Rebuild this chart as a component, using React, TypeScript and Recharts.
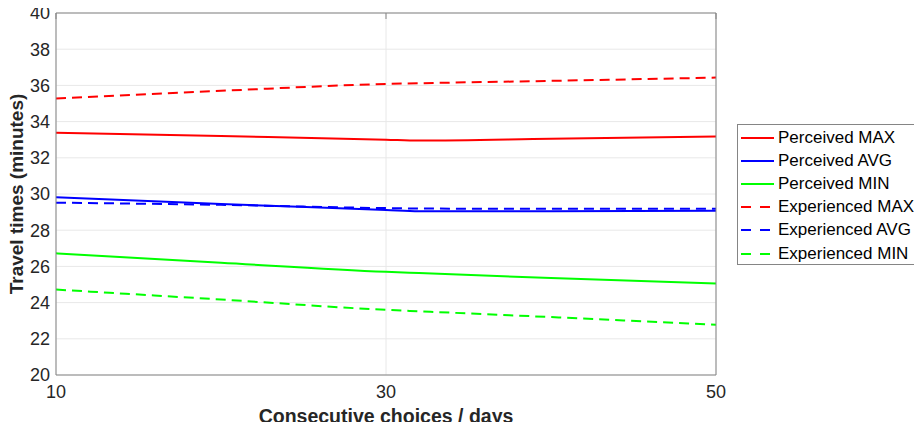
import { CartesianGrid, Label, Line, LineChart, XAxis, YAxis } from "recharts";

const days = [10, 20, 30, 32, 40, 50];
const perceivedMax = [33.39, 33.2, 33.0, 32.95, 33.05, 33.18];
const perceivedAvg = [29.82, 29.45, 29.12, 29.05, 29.05, 29.07];
const perceivedMin = [26.72, 26.2, 25.7, 25.63, 25.36, 25.06];
const experiencedMax = [35.28, 35.7, 36.08, 36.12, 36.25, 36.43];
const experiencedAvg = [29.52, 29.4, 29.22, 29.2, 29.18, 29.18];
const experiencedMin = [24.72, 24.17, 23.6, 23.52, 23.2, 22.78];

const xTicks = [10, 30, 50];
const yTicks = [20, 22, 24, 26, 28, 30, 32, 34, 36, 38, 40];

const SERIES = [
  { key: "pMax", name: "Perceived MAX", values: perceivedMax, color: "#ff0000", dash: undefined },
  { key: "pAvg", name: "Perceived AVG", values: perceivedAvg, color: "#0000ff", dash: undefined },
  { key: "pMin", name: "Perceived MIN", values: perceivedMin, color: "#00ff00", dash: undefined },
  { key: "eMax", name: "Experienced MAX", values: experiencedMax, color: "#ff0000", dash: "10 6" },
  { key: "eAvg", name: "Experienced AVG", values: experiencedAvg, color: "#0000ff", dash: "10 6" },
  { key: "eMin", name: "Experienced MIN", values: experiencedMin, color: "#00ff00", dash: "10 6" },
];

const data = days.map((d, i) => {
  const row: Record<string, number> = { day: d };
  SERIES.forEach((s) => (row[s.key] = s.values[i]));
  return row;
});

const FONT = "Arial, 'Liberation Sans', Helvetica, sans-serif";
const FRAME = "#858585";

function LegendBox() {
  return (
    <div
      style={{
        position: "absolute",
        left: 737,
        top: 124,
        border: `1px solid ${FRAME}`,
        background: "#fff",
        width: 181,
        height: 138,
        boxSizing: "content-box",
        fontFamily: FONT,
        fontSize: 17,
        color: "#000",
        paddingTop: 1,
      }}
    >
      {SERIES.map((s) => (
        <div key={s.key} style={{ display: "flex", alignItems: "center", height: 23.2 }}>
          <svg width={40} height={10}>
            <line x1={3} y1={5} x2={36} y2={5} stroke={s.color} strokeWidth={2} strokeDasharray={s.dash ? "10 9" : undefined} />
          </svg>
          <span style={{ whiteSpace: "nowrap" }}>{s.name}</span>
        </div>
      ))}
    </div>
  );
}

export default function App() {
  return (
    <div style={{ position: "relative", width: 922, height: 430, margin: -8 }}>
      <LineChart width={922} height={430} data={data} margin={{ top: 13, right: 206, bottom: 8, left: 16 }} style={{ fontFamily: FONT }}>
        <CartesianGrid stroke="#e8e8e8" strokeWidth={1} />
        <XAxis
          dataKey="day"
          type="number"
          domain={[10, 50]}
          ticks={xTicks}
          height={47}
          stroke={FRAME}
          tickLine={false}
          tickSize={0}
          tickMargin={10}
          tick={{ fill: "#262626", fontSize: 18 }}
          interval={0}
        >
          <Label value="Consecutive choices / days" position="insideBottom" offset={-1} style={{ fill: "#262626", fontSize: 19.5, fontWeight: "bold" }} />
        </XAxis>
        <XAxis xAxisId="top" dataKey="day" type="number" domain={[10, 50]} ticks={xTicks} orientation="top" height={1} stroke={FRAME} mirror tickSize={6} tickFormatter={() => ""} />
        <YAxis
          type="number"
          domain={[20, 40]}
          ticks={yTicks}
          width={40}
          stroke={FRAME}
          tickLine={false}
          tickSize={0}
          tickMargin={6}
          tick={{ fill: "#262626", fontSize: 18 }}
          interval={0}
        >
          <Label value="Travel times (minutes)" angle={-90} position="insideLeft" offset={0} style={{ fill: "#262626", fontSize: 19, fontWeight: "bold", textAnchor: "middle" }} />
        </YAxis>
        <YAxis yAxisId="right" orientation="right" type="number" domain={[20, 40]} ticks={yTicks} width={1} stroke={FRAME} mirror tickSize={6} tickFormatter={() => ""} />
        {SERIES.map((s) => (
          <Line
            key={s.key}
            dataKey={s.key}
            name={s.name}
            type="monotone"
            stroke={s.color}
            strokeWidth={2}
            strokeDasharray={s.dash}
            dot={false}
            activeDot={false}
            isAnimationActive={false}
          />
        ))}
      </LineChart>
      <LegendBox />
    </div>
  );
}
